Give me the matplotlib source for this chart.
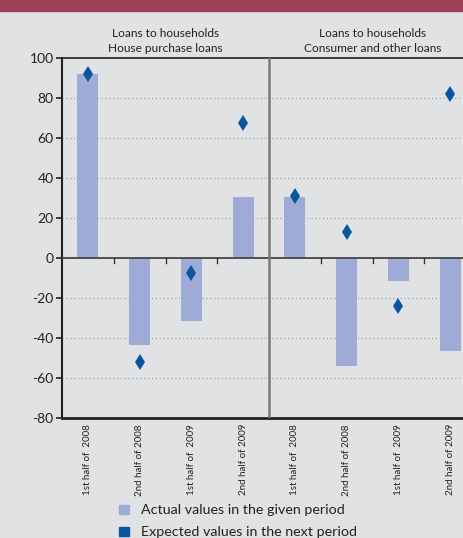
import matplotlib.pyplot as plt
import numpy as np

panels = ['Loans to households\nHouse purchase loans',
          'Loans to households\nConsumer and other loans']
periods = ['1st half of  2008', '2nd half of 2008', '1st half of  2009', '2nd half of 2009']

house_actual = [92, -43.5, -31.5, 30.5]
house_expected = [92, -52, -7.5, 67.5]
consumer_actual = [30.5, -54, -11.5, -46.5]
consumer_expected = [31, 13, -24, 82]

bg = '#e1e2e4'
bar_col = '#9eabd6'
dot_col = '#0a55a0'

plt.rcParams['font.family'] = ['Lato', 'DejaVu Sans']
plt.rcParams['axes.unicode_minus'] = False

fig = plt.figure(figsize=(4.64, 5.38), dpi=100, facecolor=bg)
# red band along the top
fig.patches.append(plt.Rectangle((0, 1 - 11/538), 1, 11/538, transform=fig.transFigure,
                                 color='#9e3f57', zorder=0))

ax = fig.add_axes([62/464, 120/538, 414/464, 360/538])
ax.set_facecolor(bg)

actual = house_actual + consumer_actual
expected = house_expected + consumer_expected
x = np.arange(len(actual)) + 0.5

ax.bar(x, actual, width=0.41, color=bar_col, zorder=2)
ax.plot(x, expected, 'd', color=dot_col, markersize=8, markeredgewidth=0, zorder=3)

ax.set_xlim(0, 8)
ax.set_ylim(-80, 100)
ax.set_yticks(np.arange(-80, 101, 20))
for v in [-60, -40, -20, 20, 40, 60, 80]:
    ax.axhline(v, color='#9a9a9a', lw=0.8, ls=(0, (1, 2.5)), zorder=1)
ax.axhline(0, color='#444444', lw=1.3, zorder=4)
ax.axvline(4, color='#7a7a7a', lw=1.8, zorder=4)

# small ticks hanging from the zero line between periods
for b in [1, 2, 3, 5, 6, 7]:
    ax.plot([b, b], [0, -2.5], color='#333333', lw=1, zorder=4, clip_on=False)

ax.set_xticks([])
for xi, lab in zip(x, periods * 2):
    ax.text(xi, -83, lab, rotation=90, ha='center', va='top', fontsize=7, color='#222222')

ax.tick_params(axis='y', labelsize=10, length=4, width=1.2, color='#222222', labelcolor='#222222', pad=2)
for s in ['left', 'bottom', 'top']:
    ax.spines[s].set_color('#222222')
ax.spines['left'].set_linewidth(1.5)
ax.spines['bottom'].set_linewidth(2)
ax.spines['top'].set_linewidth(1.2)
ax.spines['right'].set_visible(False)

for i, t in enumerate(panels):
    ax.text(2 + 4*i, 102, t, ha='center', va='bottom', fontsize=8.6,
            color='#222222', linespacing=1.45)

# legend
fig.patches.append(plt.Rectangle((119/464, 1 - 514/538), 10/464, 9/538,
                                 transform=fig.transFigure, color=bar_col))
fig.patches.append(plt.Rectangle((119/464, 1 - 536/538), 10/464, 9/538,
                                 transform=fig.transFigure, color=dot_col))
fig.text(141/464, 1 - 509.5/538, 'Actual values in the given period', fontsize=10.3,
         va='center', color='#222222')
fig.text(141/464, 1 - 531.5/538, 'Expected values in the next period', fontsize=10.3,
         va='center', color='#222222')

fig.savefig('out.png', dpi=100, facecolor=bg)
